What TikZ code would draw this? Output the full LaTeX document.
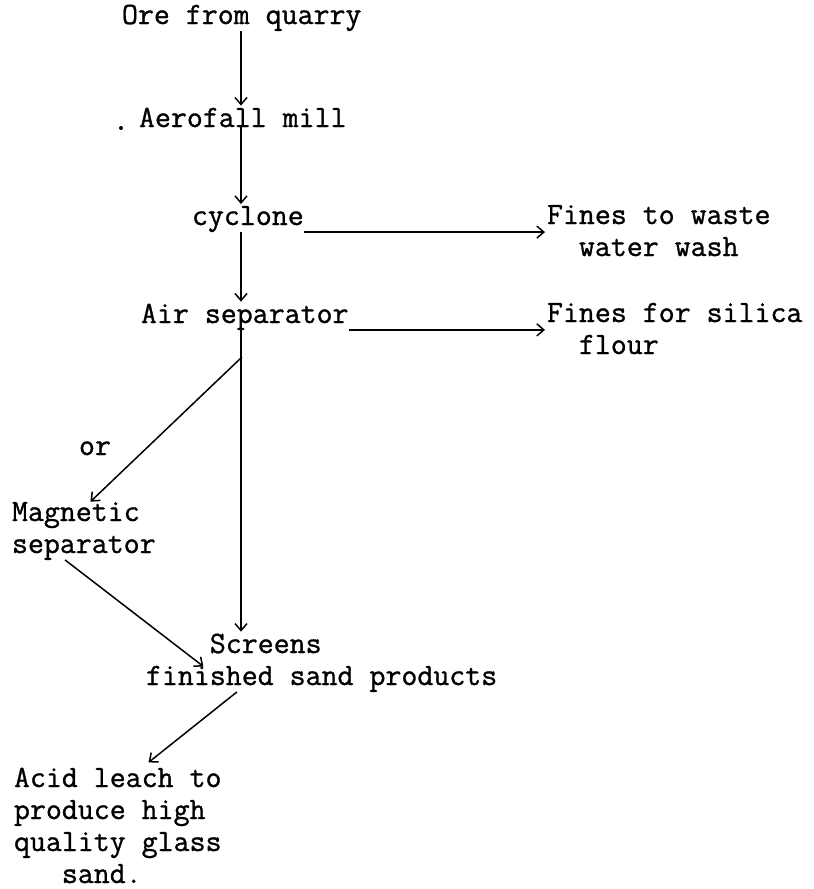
\documentclass[tikz,border=0pt]{standalone}
\usepackage{fontspec}
\newfontfamily\typed[FakeBold=1]{Latin Modern Mono}
\usetikzlibrary{arrows.meta,calc}

\begin{document}
\begin{tikzpicture}[x=1pt,y=-1pt,
  stage/.style={font=\typed\fontsize{31}{32}\selectfont,inner sep=0pt,outer sep=0pt,anchor=base west,align=left},
  flow/.style={line width=1.5pt,-{Straight Barb[length=7pt,width=12pt]},shorten >=2pt}]
\useasboundingbox (0,0) rectangle (814,889);
\coordinate (trunk) at (241,0);
\coordinate (fork) at (242,357);
% stages
\node[stage] (ore) at (122,24) {Ore from quarry};
\node[stage] (mill) at (139,127) {Aerofall mill};
\node[stage] (cyc) at (192,225) {cyclone};
\node[stage] (air) at (141,323) {Air separator};
\node[stage] (waste) at (547,256) {Fines to waste\\\phantom{xx}water wash};
\node[stage] (silica) at (547,354) {Fines for silica\\\phantom{xx}flour};
\node[stage] (or) at (79,455) {or};
\node[stage] (mag) at (12,553) {Magnetic\\separator};
\node[stage] (scr) at (146,685) {\phantom{xxxx}Screens\\finished sand products};
\node[stage] (acid) at (14,883) {Acid leach to\\produce high\\quality glass\\\phantom{xxx}sand.};
\fill (121,128) circle (2pt);
% main line
\path[flow]
(ore.south -| trunk) edge (mill.north -| trunk)
(mill.south -| trunk) edge (cyc.north -| trunk)
(cyc.south -| trunk) edge (air.north -| trunk)
(air.south -| trunk) edge (scr.north -| trunk)
;
% side branches
\path[flow]
(cyc.south east) edge (cyc.south east -| waste.west)
(air.south east) edge (air.south east -| silica.west)
(fork) edge ([xshift=77pt,yshift=-1pt]mag.north west)
([xshift=53pt]mag.south west) edge ([xshift=59pt,yshift=-34pt]scr.north west)
([xshift=91pt]scr.south west) edge ([xshift=133pt,yshift=4pt]acid.north west)
;
\end{tikzpicture}
\end{document}
